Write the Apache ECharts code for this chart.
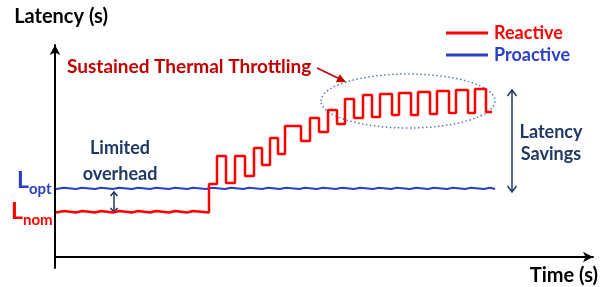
<!DOCTYPE html>
<html>
<head>
<meta charset="utf-8">
<script src="https://cdn.jsdelivr.net/npm/echarts@6/dist/echarts.min.js"></script>
<style>
  html, body { margin: 0; padding: 0; background: #fff; }
  #chart { width: 601px; height: 287px; }
</style>
</head>
<body>
<div id="chart"></div>
<script>
// time / latency (arbitrary units)
const reactiveTime = [1, 3, 9, 21, 27, 40, 46, 58, 64, 77, 83, 95, 101, 114, 120, 132, 138,
    154, 162, 171, 180, 190, 199, 207, 215, 223, 230,
    246, 255, 264, 273, 282, 290, 299, 308, 317, 325,
    337, 344, 356, 363, 375, 382, 394, 401, 413, 420,
    431, 437];
const reactiveLatency = [44.5, 46, 44.5, 46, 44.5, 46, 44.5, 46, 44.5, 46, 44.5, 46, 44.5, 46, 44.5, 46, 44.5,
    73, 101, 74, 101, 81, 109, 92, 119, 103, 131,
    116, 139, 125, 147, 133, 158, 139, 162, 140, 163,
    142, 164, 142, 165, 143, 166, 144, 167, 144, 168,
    145, 145];

const proactiveTime = [1, 3, 9, 21, 27, 40, 46, 58, 64, 77, 83, 95, 101, 114, 120, 132, 138,
    151, 157, 170, 176, 188, 194, 207, 213, 225, 231, 244, 250, 262, 268,
    281, 287, 299, 305, 318, 324, 336, 342, 355, 361, 373, 379, 392, 398,
    410, 416, 429, 435, 440];
const proactiveLatency = [68, 69.2, 68, 69.2, 68, 69.2, 68, 69.2, 68, 69.2, 68, 69.2, 68, 69.2, 68, 69.2, 68,
    69.2, 68, 69.2, 68, 69.2, 68, 69.2, 68, 69.2, 68, 69.2, 68, 69.2, 68,
    69.2, 68, 69.2, 68, 69.2, 68, 69.2, 68, 69.2, 68, 69.2, 68, 69.2, 68,
    69.2, 68, 69.2, 68, 68];

const RED = '#FF0000';
const BLUE = '#2B40C6';
const NAVY = '#1F3864';
const DARKRED = '#C00000';
const FONT = 'Lato, "Open Sans", sans-serif';

function pairs(xs, ys) {
    return xs.map((x, i) => [x, ys[i]]);
}

// arrow head, filled or open, tip at (x, y)
function head(x, y, ang, len, half, color, filled) {
    const bx = x - len * Math.cos(ang);
    const by = y - len * Math.sin(ang);
    const px = -Math.sin(ang) * half;
    const py = Math.cos(ang) * half;
    const pts = [[bx + px, by + py], [x, y], [bx - px, by - py]];
    if (filled) {
        return { type: 'polygon', shape: { points: pts }, style: { fill: color } };
    }
    return { type: 'polyline', shape: { points: pts }, style: { stroke: color, lineWidth: 1.5, fill: null } };
}

function doubleArrow(x, y1, y2, len, half, color) {
    return [
        { type: 'line', shape: { x1: x, y1: y1, x2: x, y2: y2 }, style: { stroke: color, lineWidth: 1.5 } },
        head(x, y1, -Math.PI / 2, len, half, color, false),
        head(x, y2, Math.PI / 2, len, half, color, false),
    ];
}

function label(text, x, y, size, color, align) {
    return {
        type: 'text',
        style: {
            x: x, y: y, text: text, fill: color, align: align || 'left', verticalAlign: 'middle',
            font: 'bold ' + size + 'px ' + FONT,
        },
    };
}

const chart = echarts.init(document.getElementById('chart'));

const throttleAng = Math.atan2(82 - 69, 346 - 318);

chart.setOption({
    animation: false,
    grid: { left: 55, right: 8, top: 45, bottom: 19 },
    xAxis: {
        type: 'value',
        min: 0,
        max: 538,
        name: 'Time (s)',
        nameLocation: 'end',
        nameGap: 5,
        nameTextStyle: {
            align: 'right', verticalAlign: 'top', padding: [9, 0, 0, 0],
            color: '#000', fontFamily: FONT, fontWeight: 'bold', fontSize: 20,
        },
        axisLine: {
            onZero: true,
            symbol: ['none', 'arrow'],
            symbolSize: [8, 10],
            lineStyle: { color: '#000', width: 2 },
        },
        axisTick: { show: false },
        axisLabel: { show: false },
        splitLine: { show: false },
    },
    yAxis: {
        type: 'value',
        min: -11,
        max: 212,
        name: 'Latency (s)',
        nameLocation: 'end',
        nameGap: 18,
        nameTextStyle: {
            align: 'center', padding: [0, 0, 0, 12],
            color: '#000', fontFamily: FONT, fontWeight: 'bold', fontSize: 20,
        },
        axisLine: {
            show: true,
            symbol: ['none', 'arrow'],
            symbolSize: [8, 10],
            lineStyle: { color: '#000', width: 2 },
        },
        axisTick: { show: false },
        axisLabel: { show: false },
        splitLine: { show: false },
    },
    legend: {
        orient: 'vertical',
        left: 441,
        top: 18,
        icon: 'rect',
        itemWidth: 42,
        itemHeight: 3,
        itemGap: 2,
        data: [
            { name: 'Reactive', textStyle: { color: RED } },
            { name: 'Proactive', textStyle: { color: BLUE } },
        ],
        textStyle: { fontFamily: FONT, fontWeight: 'bold', fontSize: 18, lineHeight: 20, padding: [0, 0, 0, 1] },
    },
    series: [
        {
            name: 'Reactive',
            type: 'line',
            step: 'end',
            symbol: 'none',
            z: 3,
            lineStyle: { color: RED, width: 2.5 },
            itemStyle: { color: RED },
            data: pairs(reactiveTime, reactiveLatency),
        },
        {
            name: 'Proactive',
            type: 'line',
            step: 'end',
            symbol: 'none',
            z: 2,
            lineStyle: { color: BLUE, width: 2 },
            itemStyle: { color: BLUE },
            data: pairs(proactiveTime, proactiveLatency),
        },
    ],
    graphic: [
        {
            type: 'ellipse',
            shape: { cx: 408, cy: 101, rx: 87, ry: 27 },
            style: { fill: null, stroke: '#5A78B0', lineWidth: 1.5, lineDash: [1.5, 2.5] },
        },
        label('Sustained Thermal Throttling', 67, 67, 19, DARKRED),
        { type: 'line', shape: { x1: 317, y1: 68, x2: 340, y2: 79 }, style: { stroke: DARKRED, lineWidth: 1.5 } },
        head(346, 82, throttleAng, 9, 4.5, DARKRED, true),
        label('Limited', 120, 148, 18, NAVY, 'center'),
        label('overhead', 120, 174, 18, NAVY, 'center'),
        ...doubleArrow(114, 192, 212, 4, 3.5, NAVY),
        label('Latency', 551, 132, 18, NAVY, 'center'),
        label('Savings', 551, 154, 18, NAVY, 'center'),
        ...doubleArrow(512, 90, 192, 6, 4.5, NAVY),
        label('L', 17, 181, 23, BLUE),
        label('opt', 29, 189, 15, BLUE),
        label('L', 11, 212, 23, RED),
        label('nom', 23, 220, 15, RED),
    ],
});
</script>
</body>
</html>
